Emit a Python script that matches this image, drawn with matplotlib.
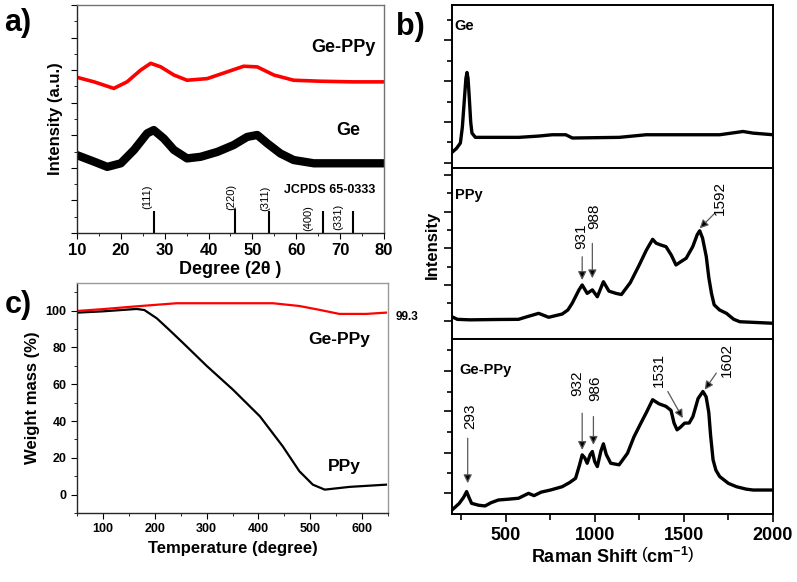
import matplotlib.pyplot as plt
from matplotlib.ticker import MultipleLocator

plt.rcParams['font.family'] = ['Liberation Sans', 'DejaVu Sans']
plt.rcParams['mathtext.fontset'] = 'custom'
plt.rcParams['mathtext.rm'] = 'Liberation Sans'
plt.rcParams['mathtext.bf'] = 'Liberation Sans:bold'

# ---- a) XRD (arbitrary units) ----
xrd_ge_x = [10, 13.9, 16.9, 20, 23, 26, 27.5, 29.8, 32.1, 35.1, 38.2, 42, 45.7,
            48.8, 51.1, 53.4, 56.4, 59.4, 64, 68.6, 73, 80]
xrd_ge_y = [2.39, 2.19, 2.03, 2.14, 2.55, 3.06, 3.16, 2.90, 2.55, 2.29, 2.34, 2.49,
            2.70, 2.95, 3.01, 2.75, 2.44, 2.24, 2.14, 2.14, 2.14, 2.14]
xrd_geppy_x = [10, 13.9, 18.4, 21.4, 24.5, 26.8, 29.1, 32.1, 35.1, 39.7, 44.3, 48,
               51.1, 54.9, 59.4, 65.5, 73, 80]
xrd_geppy_y = [4.78, 4.64, 4.44, 4.64, 5.0, 5.21, 5.10, 4.85, 4.69, 4.74, 4.95, 5.12,
               5.10, 4.85, 4.69, 4.66, 4.64, 4.64]
jcpds_pos = [27.6, 46.0, 53.7, 66.2, 73.0]
jcpds_height = [0.68, 0.73, 0.68, 0.68, 0.68]
jcpds_hkl = ['(111)', '(220)', '(311)', '(400)', '(331)']
hkl_x = [26.0, 45.1, 53.0, 62.7, 69.6]
hkl_y = [1.1, 1.1, 1.08, 0.45, 0.48]

# ---- c) TGA ----
tga_ppy_t = [50, 100, 165, 180, 204, 230, 255, 300, 351, 403, 447, 479, 505, 528, 576, 646]
tga_ppy_w = [98.9, 99.6, 100.9, 100.3, 95.8, 89, 82.3, 70, 57, 42.5, 26.2, 12.7, 5.4, 2.7,
             4.2, 5.4]
tga_geppy_t = [50, 100, 159, 242, 428, 479, 518, 556, 608, 646]
tga_geppy_w = [99.8, 100.8, 102.2, 104, 104, 102.5, 100.4, 98.2, 98.2, 98.9]

# ---- b) Raman ----
raman_ge_x = [200, 225, 247, 258, 268, 278, 284, 290, 297, 305, 312, 331, 575, 687, 762,
              838, 875, 1138, 1288, 1701, 1832, 1888, 2000]
raman_ge_y = [0.96, 1.2, 1.53, 2.5, 4.0, 5.5, 5.86, 5.5, 4.3, 2.8, 2.14, 1.88, 1.88, 1.96,
              2.04, 2.04, 1.84, 1.88, 2.04, 2.04, 2.24, 2.14, 2.04]
raman_ppy_x = [200, 230, 300, 450, 573, 620, 686, 742, 818, 850, 874, 912, 930, 958, 987,
               1015, 1049, 1080, 1119, 1150, 1200, 1250, 1290, 1325, 1345, 1370, 1400, 1430,
               1456, 1480, 1513, 1550, 1575, 1589, 1605, 1626, 1640, 1655, 1670, 1700, 1739,
               1780, 1814, 2000]
raman_ppy_y = [1.30, 1.15, 1.12, 1.14, 1.15, 1.3, 1.50, 1.27, 1.46, 1.7, 2.09, 2.87, 3.16,
               2.67, 2.87, 2.47, 3.35, 2.8, 2.67, 2.6, 3.3, 4.33, 5.2, 5.83, 5.6, 5.5, 5.40,
               4.9, 4.33, 4.5, 4.72, 5.4, 6.1, 6.33, 5.9, 4.81, 3.6, 2.67, 2.0, 1.7, 1.50,
               1.15, 1.01, 0.92]
raman_geppy_x = [200, 240, 265, 282, 295, 310, 350, 385, 420, 460, 520, 573, 629, 660, 700,
                 752, 818, 860, 893, 915, 930, 945, 958, 975, 987, 1000, 1015, 1035, 1049,
                 1065, 1090, 1137, 1184, 1220, 1259, 1290, 1325, 1360, 1400, 1428, 1445, 1462,
                 1480, 1504, 1530, 1551, 1580, 1607, 1625, 1640, 1650, 1664, 1680, 1701, 1750,
                 1795, 1850, 1889, 2000]
raman_geppy_y = [0.23, 0.6, 0.95, 1.28, 0.95, 0.61, 0.5, 0.46, 0.65, 0.80, 0.85, 0.90, 1.18,
                 1.05, 1.25, 1.37, 1.56, 1.8, 2.04, 2.8, 3.38, 3.2, 2.90, 3.4, 3.57, 3.0, 2.71,
                 3.6, 4.01, 3.4, 2.90, 2.81, 3.47, 4.4, 5.19, 5.8, 6.53, 6.3, 6.15, 5.92, 5.2,
                 4.81, 4.95, 5.19, 5.2, 5.57, 6.6, 7.0, 6.7, 5.8, 4.5, 3.09, 2.5, 2.14, 1.75,
                 1.56, 1.42, 1.37, 1.37]

fig = plt.figure(figsize=(7.97, 5.82), dpi=100)


def style_spines(ax, dark='0.15', light='0.6'):
    ax.spines['left'].set_color(dark)
    ax.spines['bottom'].set_color(dark)
    ax.spines['top'].set_color(light)
    ax.spines['right'].set_color(light)
    for s in ax.spines.values():
        s.set_linewidth(1.0)


# ================= a) =================
ax_a = fig.add_axes([77 / 797, 1 - 233 / 582, 307 / 797, 228 / 582])
ax_a.plot(xrd_geppy_x, xrd_geppy_y, color='red', lw=2.6)
ax_a.plot(xrd_ge_x, xrd_ge_y, color='black', lw=6)
ax_a.vlines(jcpds_pos, 0, jcpds_height, color='black', lw=1.5)
for x, y, t in zip(hkl_x, hkl_y, jcpds_hkl):
    ax_a.text(x, y, t, rotation=90, ha='center', va='center', fontsize=8)
ax_a.text(67.7, 1.32, 'JCPDS 65-0333', ha='center', va='center', fontsize=9, fontweight='bold')
ax_a.text(70.7, 5.7, 'Ge-PPy', ha='center', va='center', fontsize=13, fontweight='bold')
ax_a.text(71.8, 3.16, 'Ge', ha='center', va='center', fontsize=13, fontweight='bold')
ax_a.set_xlim(10, 80)
ax_a.set_ylim(0, 7)
ax_a.xaxis.set_major_locator(MultipleLocator(10))
ax_a.xaxis.set_minor_locator(MultipleLocator(5))
ax_a.yaxis.set_major_locator(MultipleLocator(1))
ax_a.yaxis.set_minor_locator(MultipleLocator(0.5))
ax_a.tick_params(which='both', direction='out', top=False, right=False, labelleft=False)
ax_a.tick_params(which='major', length=4, labelsize=12)
ax_a.tick_params(which='minor', length=2.5)
for lab in ax_a.get_xticklabels():
    lab.set_fontweight('bold')
ax_a.set_xlabel('Degree (2θ )', fontsize=13, fontweight='bold', labelpad=2)
ax_a.set_ylabel('Intensity (a.u.)', fontsize=12, fontweight='bold', labelpad=6)
style_spines(ax_a, light='0.45')

# ================= c) =================
ax_c = fig.add_axes([77 / 797, 1 - 513 / 582, 311 / 797, 230 / 582])
ax_c.plot(tga_ppy_t, tga_ppy_w, color='black', lw=1.6)
ax_c.plot(tga_geppy_t, tga_geppy_w, color='red', lw=1.6)
ax_c.text(556, 84.4, 'Ge-PPy', ha='center', va='center', fontsize=12.5, fontweight='bold')
ax_c.text(566, 15.4, 'PPy', ha='center', va='center', fontsize=12.5, fontweight='bold')
ax_c.text(664, 96.4, '99.3', ha='left', va='center', fontsize=8.5, fontweight='bold',
          clip_on=False)
ax_c.set_xlim(50, 650)
ax_c.set_ylim(-10, 115)
ax_c.xaxis.set_major_locator(MultipleLocator(100))
ax_c.xaxis.set_minor_locator(MultipleLocator(50))
ax_c.yaxis.set_minor_locator(MultipleLocator(10))
ax_c.set_yticks([0, 20, 40, 60, 80, 100])
ax_c.tick_params(which='both', direction='out', top=False, right=False)
ax_c.tick_params(which='major', length=4, labelsize=9)
ax_c.tick_params(which='minor', length=2.5)
for lab in ax_c.get_xticklabels() + ax_c.get_yticklabels():
    lab.set_fontweight('bold')
ax_c.set_xlabel('Temperature (degree)', fontsize=12, fontweight='bold', labelpad=4)
ax_c.set_ylabel('Weight mass (%)', fontsize=12, fontweight='bold', labelpad=4)
style_spines(ax_c)

# ================= b) =================
rx = 452 / 797
rw = 321 / 797
ax_b1 = fig.add_axes([rx, 1 - 168 / 582, rw, 163 / 582])
ax_b2 = fig.add_axes([rx, 1 - 339 / 582, rw, 171 / 582])
ax_b3 = fig.add_axes([rx, 1 - 514 / 582, rw, 175 / 582])

ax_b1.plot(raman_ge_x, raman_ge_y, color='black', lw=2.4)
ax_b2.plot(raman_ppy_x, raman_ppy_y, color='black', lw=2.4)
ax_b3.plot(raman_geppy_x, raman_geppy_y, color='black', lw=2.4)

yt_major = [[0.29, 2.84, 5.34, 7.85], [1.07, 3.16, 5.30, 7.45, 9.59], [1.18, 3.47, 5.86, 8.15]]
yt_minor = [[1.58, 4.07, 6.56, 9.08], [2.09, 4.23, 6.37, 8.52], [2.33, 4.66, 7.0, 9.39]]

for i, ax in enumerate([ax_b1, ax_b2, ax_b3]):
    ax.set_xlim(200, 2000)
    ax.set_ylim(0, 10)
    ax.set_yticks(yt_major[i])
    ax.set_yticks(yt_minor[i], minor=True)
    ax.tick_params(which='both', direction='out', top=False, right=False, labelleft=False)
    ax.tick_params(axis='y', which='major', length=6, width=1.2)
    ax.tick_params(axis='y', which='minor', length=3.5, width=1.2)
    for s in ax.spines.values():
        s.set_linewidth(1.4)
        s.set_color('black')
    if i < 2:
        ax.xaxis.set_major_locator(MultipleLocator(100))
        ax.tick_params(axis='x', which='major', length=4, width=1.2, labelbottom=False)

ax_b3.xaxis.set_major_locator(MultipleLocator(500))
ax_b3.xaxis.set_minor_locator(MultipleLocator(250))
ax_b3.tick_params(axis='x', which='major', length=6, width=1.2, labelsize=13)
ax_b3.tick_params(axis='x', which='minor', length=4, width=1.2)
for lab in ax_b3.get_xticklabels():
    lab.set_fontweight('bold')
ax_b3.set_xlabel(r'Raman Shift $\left(\mathbf{cm^{-1}}\right)$', fontsize=13,
                 fontweight='bold', labelpad=2)

ax_b1.text(216, 8.71, 'Ge', ha='left', va='center', fontsize=10.5, fontweight='bold')
ax_b2.text(216, 8.42, 'PPy', ha='left', va='center', fontsize=10.5, fontweight='bold')
ax_b3.text(244, 8.24, 'Ge-PPy', ha='left', va='center', fontsize=10.5, fontweight='bold')

arrow = dict(arrowstyle='-|>,head_length=0.5,head_width=0.25', ec='0.35', fc='black', lw=0.9,
             shrinkA=0, shrinkB=0)

# PPy annotations
ax_b2.annotate('', xy=(930, 3.45), xytext=(930, 4.81), arrowprops=arrow)
ax_b2.text(925, 5.98, '931', rotation=90, ha='center', va='center', fontsize=11)
ax_b2.annotate('', xy=(987, 3.55), xytext=(987, 5.59), arrowprops=arrow)
ax_b2.text(1000, 7.15, '988', rotation=90, ha='center', va='center', fontsize=11)
ax_b2.annotate('', xy=(1589, 6.47), xytext=(1673, 7.35), arrowprops=arrow)
ax_b2.text(1701, 8.23, '1592', rotation=90, ha='center', va='center', fontsize=11)

# Ge-PPy annotations
ax_b3.annotate('', xy=(288, 1.76), xytext=(288, 4.33), arrowprops=arrow)
ax_b3.text(301, 5.57, '293', rotation=90, ha='center', va='center', fontsize=11)
ax_b3.annotate('', xy=(930, 3.66), xytext=(930, 5.76), arrowprops=arrow)
ax_b3.text(902, 7.48, '932', rotation=90, ha='center', va='center', fontsize=11)
ax_b3.annotate('', xy=(993, 3.95), xytext=(993, 5.57), arrowprops=arrow)
ax_b3.text(1006, 7.19, '986', rotation=90, ha='center', va='center', fontsize=11)
ax_b3.annotate('', xy=(1494, 5.48), xytext=(1410, 7.0), arrowprops=arrow)
ax_b3.text(1362, 8.24, '1531', rotation=90, ha='center', va='center', fontsize=11)
ax_b3.annotate('', xy=(1617, 7.1), xytext=(1682, 8.05), arrowprops=arrow)
ax_b3.text(1739, 8.82, '1602', rotation=90, ha='center', va='center', fontsize=11)

fig.text(432 / 797, 1 - 245 / 582, 'Intensity', rotation=90, ha='center', va='center',
         fontsize=12, fontweight='bold')

# panel letters
fig.text(18 / 797, 1 - 23 / 582, 'a)', ha='center', va='center', fontsize=22, fontweight='bold')
fig.text(410 / 797, 1 - 27 / 582, 'b)', ha='center', va='center', fontsize=22, fontweight='bold')
fig.text(18 / 797, 1 - 305 / 582, 'c)', ha='center', va='center', fontsize=22, fontweight='bold')

fig.savefig('out.png', dpi=100)
